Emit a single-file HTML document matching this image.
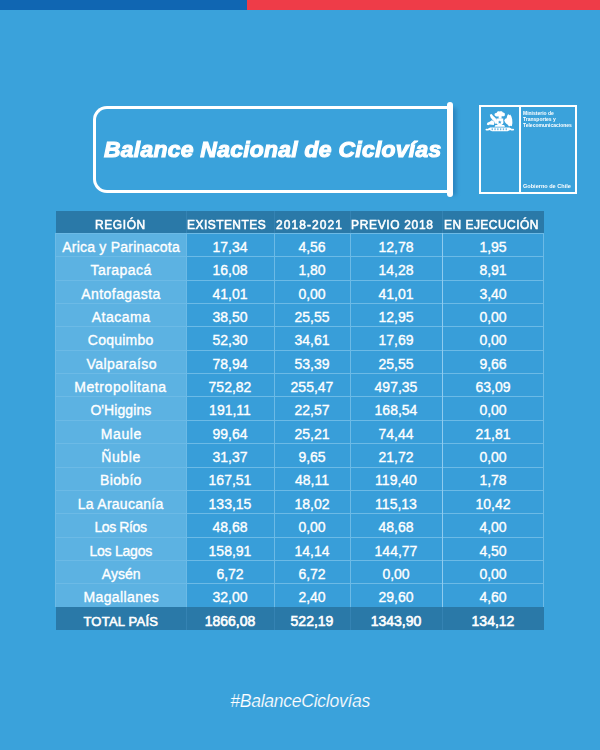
<!DOCTYPE html>
<html><head><meta charset="utf-8">
<style>
html,body{margin:0;padding:0;}
body{width:600px;height:750px;position:relative;overflow:hidden;background:#3aa2db;font-family:"Liberation Sans",sans-serif;color:#fff;}
.box{position:absolute;}
.s{position:absolute;white-space:nowrap;}
.d{-webkit-text-stroke:0.35px #fff;}
.h{-webkit-text-stroke:0.6px #fff;}
.hx{transform:scaleX(0.92);transform-origin:0 0;}
.title{transform:scaleX(1.05);transform-origin:0 0;font-weight:bold;font-style:italic;-webkit-text-stroke:1.1px #fff;}
.hash{font-style:italic;-webkit-text-stroke:0.2px #3aa2db;}
.topbar1{position:absolute;left:0;top:0;width:247px;height:10px;background:#1066b2;}
.topbar2{position:absolute;left:247px;top:0;width:353px;height:10px;background:#ee3c48;}
.frame{position:absolute;left:93px;top:106px;width:358px;height:87px;border:3px solid #fff;border-right:none;border-radius:14px 0 0 14px;box-sizing:border-box;}
.shadow{position:absolute;left:451px;top:108px;width:5px;height:87px;background:rgba(25,100,160,0.55);filter:blur(2.2px);}
.vbar{position:absolute;left:447px;top:102px;width:6px;height:95px;background:#fff;border-radius:3px;}
.logo{position:absolute;left:479px;top:105px;width:98px;height:89px;border:2px solid #fff;box-sizing:border-box;}
.logo .dv{position:absolute;left:38px;top:0;width:1.6px;height:100%;background:#fff;}
.lt{position:absolute;font-size:10px;font-weight:bold;line-height:12.4px;white-space:nowrap;transform-origin:0 0;}
</style></head>
<body>
<div class="topbar1"></div><div class="topbar2"></div>
<div class="shadow"></div>
<div class="frame"></div>
<div class="vbar"></div>
<div class="logo"><div class="dv"></div>
<svg style="position:absolute;left:-2px;top:-2px;overflow:visible" width="40" height="34" viewBox="479 105 40 34">
<g fill="#fff">
<path d="M494.6 115.2 C494.2 113.6 495.4 112.6 496.6 113.1 C496.8 111.6 498.4 110.9 499.6 111.5 C500.8 110.8 502.6 111.2 502.8 112.6 C504.2 112.4 505.4 113.6 504.8 115 C505 116.2 503.6 116.6 502.6 116.2 L501.6 116.3 L501.6 118.8 L498.6 118.8 L498.6 116.3 C497.4 116.8 495.6 116.6 494.6 115.2 Z"/>
<path d="M496.4 118.6 L503.2 118.6 L503.4 122.6 C503.3 124.4 501.6 125.4 499.75 125.6 C497.9 125.4 496.2 124.4 496.1 122.6 Z"/>
<path d="M489.8 114.8 L491.6 114.0 L493.2 116.0 L495.2 117.8 L497.0 120.2 L496.4 123.6 L495.0 123.8 L494.2 121.6 L492.4 119.8 L490.6 117.6 Z"/>
<path d="M486.8 124.6 L487.4 122.8 L489.6 121.8 L491.8 120.2 L493.6 121.0 L494.4 123.0 L493.8 125.0 L491.6 124.8 L489.6 124.4 L488.2 125.2 Z"/>
<path d="M504.2 120.4 L505.2 118.8 L506.6 118.2 L507.2 115.8 L508.2 114.0 L509.2 115.2 L510.2 114.6 L511.4 116.4 L512.2 119.6 L512.4 123.0 L511.8 126.2 L510.4 125.8 L509.0 126.4 L507.8 124.8 L506.4 123.8 L505.2 122.4 Z"/>
<path d="M495.4 125.0 L504.2 125.0 L505.0 126.8 L494.6 126.8 Z"/>
<path d="M485.8 130.2 C485.0 129.4 485.8 128.4 487.0 128.8 C488.0 129.2 488.8 128.2 490.0 127.6 L509.6 127.6 C510.8 128.2 511.6 129.2 512.6 128.8 C513.8 128.4 514.6 129.4 513.8 130.2 C512.8 131.0 511.4 130.4 510.2 130.0 L507.6 131.2 L492.0 131.2 L489.4 130.0 C488.2 130.4 486.8 131.0 485.8 130.2 Z"/>
</g>
<g fill="#3aa2db">
<path d="M499.75 120.4 L500.3 121.6 L501.5 121.7 L500.6 122.5 L500.9 123.7 L499.75 123.1 L498.6 123.7 L498.9 122.5 L498.0 121.7 L499.2 121.6 Z"/>
<rect x="491.6" y="128.3" width="1.3" height="1.9" opacity="0.75"/>
<rect x="494.4" y="128.3" width="1.3" height="1.9" opacity="0.75"/>
<rect x="497.2" y="128.3" width="1.3" height="1.9" opacity="0.75"/>
<rect x="500.0" y="128.3" width="1.3" height="1.9" opacity="0.75"/>
<rect x="502.8" y="128.3" width="1.3" height="1.9" opacity="0.75"/>
<rect x="505.6" y="128.3" width="1.3" height="1.9" opacity="0.75"/>
</g>
</svg>

<div class="lt" style="left:42.3px;top:3.1px;transform:scale(0.5)">Ministerio de<br>Transportes y<br>Telecomunicaciones</div>
<div class="lt" style="left:42px;top:76.2px;transform:scale(0.555)">Gobierno de Chile</div>
</div>
<div class="box" style="left:56px;top:211px;width:488px;height:22px;background:#2a79a8"></div>
<div class="box" style="left:186px;top:211px;width:1px;height:22px;background:#3583b3"></div>
<div class="box" style="left:274px;top:211px;width:1px;height:22px;background:#3583b3"></div>
<div class="box" style="left:350px;top:211px;width:1px;height:22px;background:#3583b3"></div>
<div class="box" style="left:442px;top:211px;width:1px;height:22px;background:#3583b3"></div>
<div class="box" style="left:55px;top:233px;width:489px;height:373.50px;background:#389ed9"></div>
<div class="box" style="left:55px;top:233px;width:131px;height:373.50px;background:#5cb2e2"></div>
<div class="box" style="left:55px;top:233.00px;width:489px;height:1px;background:#6cbae6"></div>
<div class="box" style="left:55px;top:256.35px;width:489px;height:1px;background:#6cbae6"></div>
<div class="box" style="left:55px;top:279.70px;width:489px;height:1px;background:#6cbae6"></div>
<div class="box" style="left:55px;top:303.05px;width:489px;height:1px;background:#6cbae6"></div>
<div class="box" style="left:55px;top:326.40px;width:489px;height:1px;background:#6cbae6"></div>
<div class="box" style="left:55px;top:349.75px;width:489px;height:1px;background:#6cbae6"></div>
<div class="box" style="left:55px;top:373.10px;width:489px;height:1px;background:#6cbae6"></div>
<div class="box" style="left:55px;top:396.45px;width:489px;height:1px;background:#6cbae6"></div>
<div class="box" style="left:55px;top:419.80px;width:489px;height:1px;background:#6cbae6"></div>
<div class="box" style="left:55px;top:443.15px;width:489px;height:1px;background:#6cbae6"></div>
<div class="box" style="left:55px;top:466.50px;width:489px;height:1px;background:#6cbae6"></div>
<div class="box" style="left:55px;top:489.85px;width:489px;height:1px;background:#6cbae6"></div>
<div class="box" style="left:55px;top:513.20px;width:489px;height:1px;background:#6cbae6"></div>
<div class="box" style="left:55px;top:536.55px;width:489px;height:1px;background:#6cbae6"></div>
<div class="box" style="left:55px;top:559.90px;width:489px;height:1px;background:#6cbae6"></div>
<div class="box" style="left:55px;top:583.25px;width:489px;height:1px;background:#6cbae6"></div>
<div class="box" style="left:55px;top:233px;width:1px;height:373.50px;background:#6cbae6"></div>
<div class="box" style="left:186px;top:233px;width:1px;height:373.50px;background:#6cbae6"></div>
<div class="box" style="left:274px;top:233px;width:1px;height:373.50px;background:#6cbae6"></div>
<div class="box" style="left:350px;top:233px;width:1px;height:373.50px;background:#6cbae6"></div>
<div class="box" style="left:442px;top:233px;width:1px;height:373.50px;background:#8ecbef"></div>
<div class="box" style="left:543px;top:233px;width:1px;height:373.50px;background:#6cbae6"></div>
<div class="s h hx" style="left:95.40px;top:217.70px;font-size:13.0px;line-height:13.0px;letter-spacing:0.660px;">REGIÓN</div>
<div class="s h hx" style="left:187.00px;top:217.70px;font-size:13.0px;line-height:13.0px;letter-spacing:0.511px;">EXISTENTES</div>
<div class="s h hx" style="left:276.00px;top:217.70px;font-size:13.0px;line-height:13.0px;letter-spacing:1.188px;">2018-2021</div>
<div class="s h hx" style="left:351.20px;top:217.70px;font-size:13.0px;line-height:13.0px;letter-spacing:0.740px;">PREVIO 2018</div>
<div class="s h hx" style="left:443.60px;top:217.70px;font-size:13.0px;line-height:13.0px;letter-spacing:0.536px;">EN EJECUCIÓN</div>
<div class="s d" style="left:62.20px;top:239.95px;font-size:14.0px;line-height:14.0px;letter-spacing:0.229px;">Arica y Parinacota</div>
<div class="s d" style="left:186px;width:88px;text-align:center;top:239.95px;font-size:14.0px;line-height:14.0px;">17,34</div>
<div class="s d" style="left:274px;width:76px;text-align:center;top:239.95px;font-size:14.0px;line-height:14.0px;">4,56</div>
<div class="s d" style="left:350px;width:92px;text-align:center;top:239.95px;font-size:14.0px;line-height:14.0px;">12,78</div>
<div class="s d" style="left:442px;width:102px;text-align:center;top:239.95px;font-size:14.0px;line-height:14.0px;">1,95</div>
<div class="s d" style="left:90.60px;top:263.30px;font-size:14.0px;line-height:14.0px;letter-spacing:0.429px;">Tarapacá</div>
<div class="s d" style="left:186px;width:88px;text-align:center;top:263.30px;font-size:14.0px;line-height:14.0px;">16,08</div>
<div class="s d" style="left:274px;width:76px;text-align:center;top:263.30px;font-size:14.0px;line-height:14.0px;">1,80</div>
<div class="s d" style="left:350px;width:92px;text-align:center;top:263.30px;font-size:14.0px;line-height:14.0px;">14,28</div>
<div class="s d" style="left:442px;width:102px;text-align:center;top:263.30px;font-size:14.0px;line-height:14.0px;">8,91</div>
<div class="s d" style="left:81.20px;top:286.65px;font-size:14.0px;line-height:14.0px;letter-spacing:0.450px;">Antofagasta</div>
<div class="s d" style="left:186px;width:88px;text-align:center;top:286.65px;font-size:14.0px;line-height:14.0px;">41,01</div>
<div class="s d" style="left:274px;width:76px;text-align:center;top:286.65px;font-size:14.0px;line-height:14.0px;">0,00</div>
<div class="s d" style="left:350px;width:92px;text-align:center;top:286.65px;font-size:14.0px;line-height:14.0px;">41,01</div>
<div class="s d" style="left:442px;width:102px;text-align:center;top:286.65px;font-size:14.0px;line-height:14.0px;">3,40</div>
<div class="s d" style="left:91.80px;top:310.00px;font-size:14.0px;line-height:14.0px;letter-spacing:0.483px;">Atacama</div>
<div class="s d" style="left:186px;width:88px;text-align:center;top:310.00px;font-size:14.0px;line-height:14.0px;">38,50</div>
<div class="s d" style="left:274px;width:76px;text-align:center;top:310.00px;font-size:14.0px;line-height:14.0px;">25,55</div>
<div class="s d" style="left:350px;width:92px;text-align:center;top:310.00px;font-size:14.0px;line-height:14.0px;">12,95</div>
<div class="s d" style="left:442px;width:102px;text-align:center;top:310.00px;font-size:14.0px;line-height:14.0px;">0,00</div>
<div class="s d" style="left:87.80px;top:333.35px;font-size:14.0px;line-height:14.0px;letter-spacing:0.229px;">Coquimbo</div>
<div class="s d" style="left:186px;width:88px;text-align:center;top:333.35px;font-size:14.0px;line-height:14.0px;">52,30</div>
<div class="s d" style="left:274px;width:76px;text-align:center;top:333.35px;font-size:14.0px;line-height:14.0px;">34,61</div>
<div class="s d" style="left:350px;width:92px;text-align:center;top:333.35px;font-size:14.0px;line-height:14.0px;">17,69</div>
<div class="s d" style="left:442px;width:102px;text-align:center;top:333.35px;font-size:14.0px;line-height:14.0px;">0,00</div>
<div class="s d" style="left:86.60px;top:356.70px;font-size:14.0px;line-height:14.0px;letter-spacing:0.444px;">Valparaíso</div>
<div class="s d" style="left:186px;width:88px;text-align:center;top:356.70px;font-size:14.0px;line-height:14.0px;">78,94</div>
<div class="s d" style="left:274px;width:76px;text-align:center;top:356.70px;font-size:14.0px;line-height:14.0px;">53,39</div>
<div class="s d" style="left:350px;width:92px;text-align:center;top:356.70px;font-size:14.0px;line-height:14.0px;">25,55</div>
<div class="s d" style="left:442px;width:102px;text-align:center;top:356.70px;font-size:14.0px;line-height:14.0px;">9,66</div>
<div class="s d" style="left:74.20px;top:380.05px;font-size:14.0px;line-height:14.0px;letter-spacing:0.592px;">Metropolitana</div>
<div class="s d" style="left:186px;width:88px;text-align:center;top:380.05px;font-size:14.0px;line-height:14.0px;">752,82</div>
<div class="s d" style="left:274px;width:76px;text-align:center;top:380.05px;font-size:14.0px;line-height:14.0px;">255,47</div>
<div class="s d" style="left:350px;width:92px;text-align:center;top:380.05px;font-size:14.0px;line-height:14.0px;">497,35</div>
<div class="s d" style="left:442px;width:102px;text-align:center;top:380.05px;font-size:14.0px;line-height:14.0px;">63,09</div>
<div class="s d" style="left:90.40px;top:403.40px;font-size:14.0px;line-height:14.0px;letter-spacing:0.075px;">O'Higgins</div>
<div class="s d" style="left:186px;width:88px;text-align:center;top:403.40px;font-size:14.0px;line-height:14.0px;">191,11</div>
<div class="s d" style="left:274px;width:76px;text-align:center;top:403.40px;font-size:14.0px;line-height:14.0px;">22,57</div>
<div class="s d" style="left:350px;width:92px;text-align:center;top:403.40px;font-size:14.0px;line-height:14.0px;">168,54</div>
<div class="s d" style="left:442px;width:102px;text-align:center;top:403.40px;font-size:14.0px;line-height:14.0px;">0,00</div>
<div class="s d" style="left:100.80px;top:426.75px;font-size:14.0px;line-height:14.0px;letter-spacing:0.575px;">Maule</div>
<div class="s d" style="left:186px;width:88px;text-align:center;top:426.75px;font-size:14.0px;line-height:14.0px;">99,64</div>
<div class="s d" style="left:274px;width:76px;text-align:center;top:426.75px;font-size:14.0px;line-height:14.0px;">25,21</div>
<div class="s d" style="left:350px;width:92px;text-align:center;top:426.75px;font-size:14.0px;line-height:14.0px;">74,44</div>
<div class="s d" style="left:442px;width:102px;text-align:center;top:426.75px;font-size:14.0px;line-height:14.0px;">21,81</div>
<div class="s d" style="left:101.20px;top:450.10px;font-size:14.0px;line-height:14.0px;letter-spacing:0.625px;">Ñuble</div>
<div class="s d" style="left:186px;width:88px;text-align:center;top:450.10px;font-size:14.0px;line-height:14.0px;">31,37</div>
<div class="s d" style="left:274px;width:76px;text-align:center;top:450.10px;font-size:14.0px;line-height:14.0px;">9,65</div>
<div class="s d" style="left:350px;width:92px;text-align:center;top:450.10px;font-size:14.0px;line-height:14.0px;">21,72</div>
<div class="s d" style="left:442px;width:102px;text-align:center;top:450.10px;font-size:14.0px;line-height:14.0px;">0,00</div>
<div class="s d" style="left:100.00px;top:473.45px;font-size:14.0px;line-height:14.0px;letter-spacing:0.340px;">Biobío</div>
<div class="s d" style="left:186px;width:88px;text-align:center;top:473.45px;font-size:14.0px;line-height:14.0px;">167,51</div>
<div class="s d" style="left:274px;width:76px;text-align:center;top:473.45px;font-size:14.0px;line-height:14.0px;">48,11</div>
<div class="s d" style="left:350px;width:92px;text-align:center;top:473.45px;font-size:14.0px;line-height:14.0px;">119,40</div>
<div class="s d" style="left:442px;width:102px;text-align:center;top:473.45px;font-size:14.0px;line-height:14.0px;">1,78</div>
<div class="s d" style="left:77.80px;top:496.80px;font-size:14.0px;line-height:14.0px;letter-spacing:0.264px;">La Araucanía</div>
<div class="s d" style="left:186px;width:88px;text-align:center;top:496.80px;font-size:14.0px;line-height:14.0px;">133,15</div>
<div class="s d" style="left:274px;width:76px;text-align:center;top:496.80px;font-size:14.0px;line-height:14.0px;">18,02</div>
<div class="s d" style="left:350px;width:92px;text-align:center;top:496.80px;font-size:14.0px;line-height:14.0px;">115,13</div>
<div class="s d" style="left:442px;width:102px;text-align:center;top:496.80px;font-size:14.0px;line-height:14.0px;">10,42</div>
<div class="s d" style="left:94.40px;top:520.15px;font-size:14.0px;line-height:14.0px;letter-spacing:-0.386px;">Los Ríos</div>
<div class="s d" style="left:186px;width:88px;text-align:center;top:520.15px;font-size:14.0px;line-height:14.0px;">48,68</div>
<div class="s d" style="left:274px;width:76px;text-align:center;top:520.15px;font-size:14.0px;line-height:14.0px;">0,00</div>
<div class="s d" style="left:350px;width:92px;text-align:center;top:520.15px;font-size:14.0px;line-height:14.0px;">48,68</div>
<div class="s d" style="left:442px;width:102px;text-align:center;top:520.15px;font-size:14.0px;line-height:14.0px;">4,00</div>
<div class="s d" style="left:89.40px;top:543.50px;font-size:14.0px;line-height:14.0px;letter-spacing:-0.225px;">Los Lagos</div>
<div class="s d" style="left:186px;width:88px;text-align:center;top:543.50px;font-size:14.0px;line-height:14.0px;">158,91</div>
<div class="s d" style="left:274px;width:76px;text-align:center;top:543.50px;font-size:14.0px;line-height:14.0px;">14,14</div>
<div class="s d" style="left:350px;width:92px;text-align:center;top:543.50px;font-size:14.0px;line-height:14.0px;">144,77</div>
<div class="s d" style="left:442px;width:102px;text-align:center;top:543.50px;font-size:14.0px;line-height:14.0px;">4,50</div>
<div class="s d" style="left:101.80px;top:566.85px;font-size:14.0px;line-height:14.0px;letter-spacing:0.050px;">Aysén</div>
<div class="s d" style="left:186px;width:88px;text-align:center;top:566.85px;font-size:14.0px;line-height:14.0px;">6,72</div>
<div class="s d" style="left:274px;width:76px;text-align:center;top:566.85px;font-size:14.0px;line-height:14.0px;">6,72</div>
<div class="s d" style="left:350px;width:92px;text-align:center;top:566.85px;font-size:14.0px;line-height:14.0px;">0,00</div>
<div class="s d" style="left:442px;width:102px;text-align:center;top:566.85px;font-size:14.0px;line-height:14.0px;">0,00</div>
<div class="s d" style="left:83.40px;top:590.20px;font-size:14.0px;line-height:14.0px;letter-spacing:0.411px;">Magallanes</div>
<div class="s d" style="left:186px;width:88px;text-align:center;top:590.20px;font-size:14.0px;line-height:14.0px;">32,00</div>
<div class="s d" style="left:274px;width:76px;text-align:center;top:590.20px;font-size:14.0px;line-height:14.0px;">2,40</div>
<div class="s d" style="left:350px;width:92px;text-align:center;top:590.20px;font-size:14.0px;line-height:14.0px;">29,60</div>
<div class="s d" style="left:442px;width:102px;text-align:center;top:590.20px;font-size:14.0px;line-height:14.0px;">4,60</div>
<div class="box" style="left:56px;top:606.5px;width:488px;height:23.00px;background:#2a79a8"></div>
<div class="box" style="left:186px;top:606.5px;width:1px;height:23.00px;background:#3583b3"></div>
<div class="box" style="left:274px;top:606.5px;width:1px;height:23.00px;background:#3583b3"></div>
<div class="box" style="left:350px;top:606.5px;width:1px;height:23.00px;background:#3583b3"></div>
<div class="box" style="left:442px;top:606.5px;width:1px;height:23.00px;background:#3583b3"></div>
<div class="s h" style="left:83.40px;top:614.50px;font-size:13.0px;line-height:13.0px;letter-spacing:0.233px;">TOTAL PAÍS</div>
<div class="s h" style="left:186px;width:88px;text-align:center;top:613.65px;font-size:14.0px;line-height:14.0px;">1866,08</div>
<div class="s h" style="left:274px;width:76px;text-align:center;top:613.65px;font-size:14.0px;line-height:14.0px;">522,19</div>
<div class="s h" style="left:350px;width:92px;text-align:center;top:613.65px;font-size:14.0px;line-height:14.0px;">1343,90</div>
<div class="s h" style="left:442px;width:102px;text-align:center;top:613.65px;font-size:14.0px;line-height:14.0px;">134,12</div>
<div class="s title" style="left:103.80px;top:139.35px;font-size:21.8px;line-height:21.8px;letter-spacing:0.264px;">Balance Nacional de Ciclovías</div>
<div class="s hash" style="left:230.20px;top:692.50px;font-size:17.6px;line-height:17.6px;letter-spacing:-0.287px;">#BalanceCiclovías</div>
</body></html>
